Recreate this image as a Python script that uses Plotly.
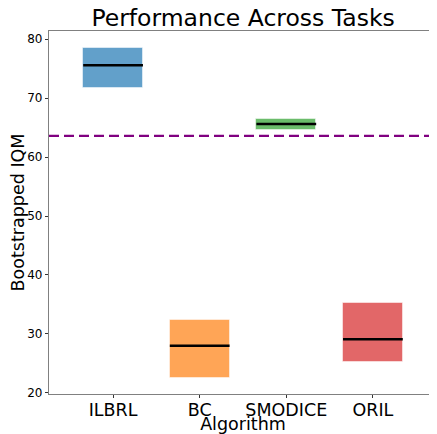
import plotly.graph_objects as go

algorithms = ["ILBRL", "BC", "SMODICE", "ORIL"]
iqm_low = [71.8, 22.5, 64.6, 25.3]
iqm_high = [78.5, 32.3, 66.4, 35.2]
iqm_median = [75.6, 28.0, 65.6, 29.1]
baseline = 63.6
colors = ["rgba(31,119,180,0.7)", "rgba(255,127,14,0.7)", "rgba(44,160,44,0.7)", "rgba(214,39,40,0.7)"]
yticks = [20, 30, 40, 50, 60, 70, 80]

box_w = 0.69
xs = list(range(len(algorithms)))

fig = go.Figure()
fig.add_trace(go.Bar(
    x=xs, y=[h - l for h, l in zip(iqm_high, iqm_low)], base=iqm_low,
    width=box_w, marker=dict(color=colors, line=dict(color="rgba(255,255,255,0.5)", width=1)),
    showlegend=False, hoverinfo="skip"))
for i, m in zip(xs, iqm_median):
    fig.add_trace(go.Scatter(x=[i - box_w / 2, i + box_w / 2], y=[m, m], mode="lines",
                             line=dict(color="black", width=2.5), showlegend=False))

fig.add_shape(type="line", xref="paper", x0=0, x1=1, yref="y", y0=baseline, y1=baseline,
              line=dict(color="purple", width=2.2, dash="10px,5px"))

axis_common = dict(showline=True, linecolor="#808080", linewidth=1.3, mirror=True,
                   ticks="outside", ticklen=3, tickcolor="#333333", showgrid=False,
                   zeroline=False, automargin=False)

# page body has an 8px margin; figure sized to fit the 437x434 window
fig.update_layout(
    width=429, height=426,
    margin=dict(l=41, r=0, t=23, b=40),
    plot_bgcolor="white", paper_bgcolor="white",
    font=dict(family="DejaVu Sans", color="black"),
    title=dict(text="Performance Across Tasks", x=0.548, xanchor="center", y=0.976, yanchor="middle",
               font=dict(size=23.5, color="black")),
    xaxis=dict(range=[-0.74, 3.74], tickvals=xs, ticktext=algorithms, tickfont=dict(size=17.5),
               ticklabelstandoff=-3,
               title=dict(text="Algorithm", font=dict(size=17.5), standoff=0), **axis_common),
    yaxis=dict(range=[19.8, 81.4], tickvals=yticks, tickfont=dict(size=12),
               title=dict(text="Bootstrapped IQM", font=dict(size=17.5), standoff=2), **axis_common),
    bargap=0,
)

fig.write_html("out.html")
